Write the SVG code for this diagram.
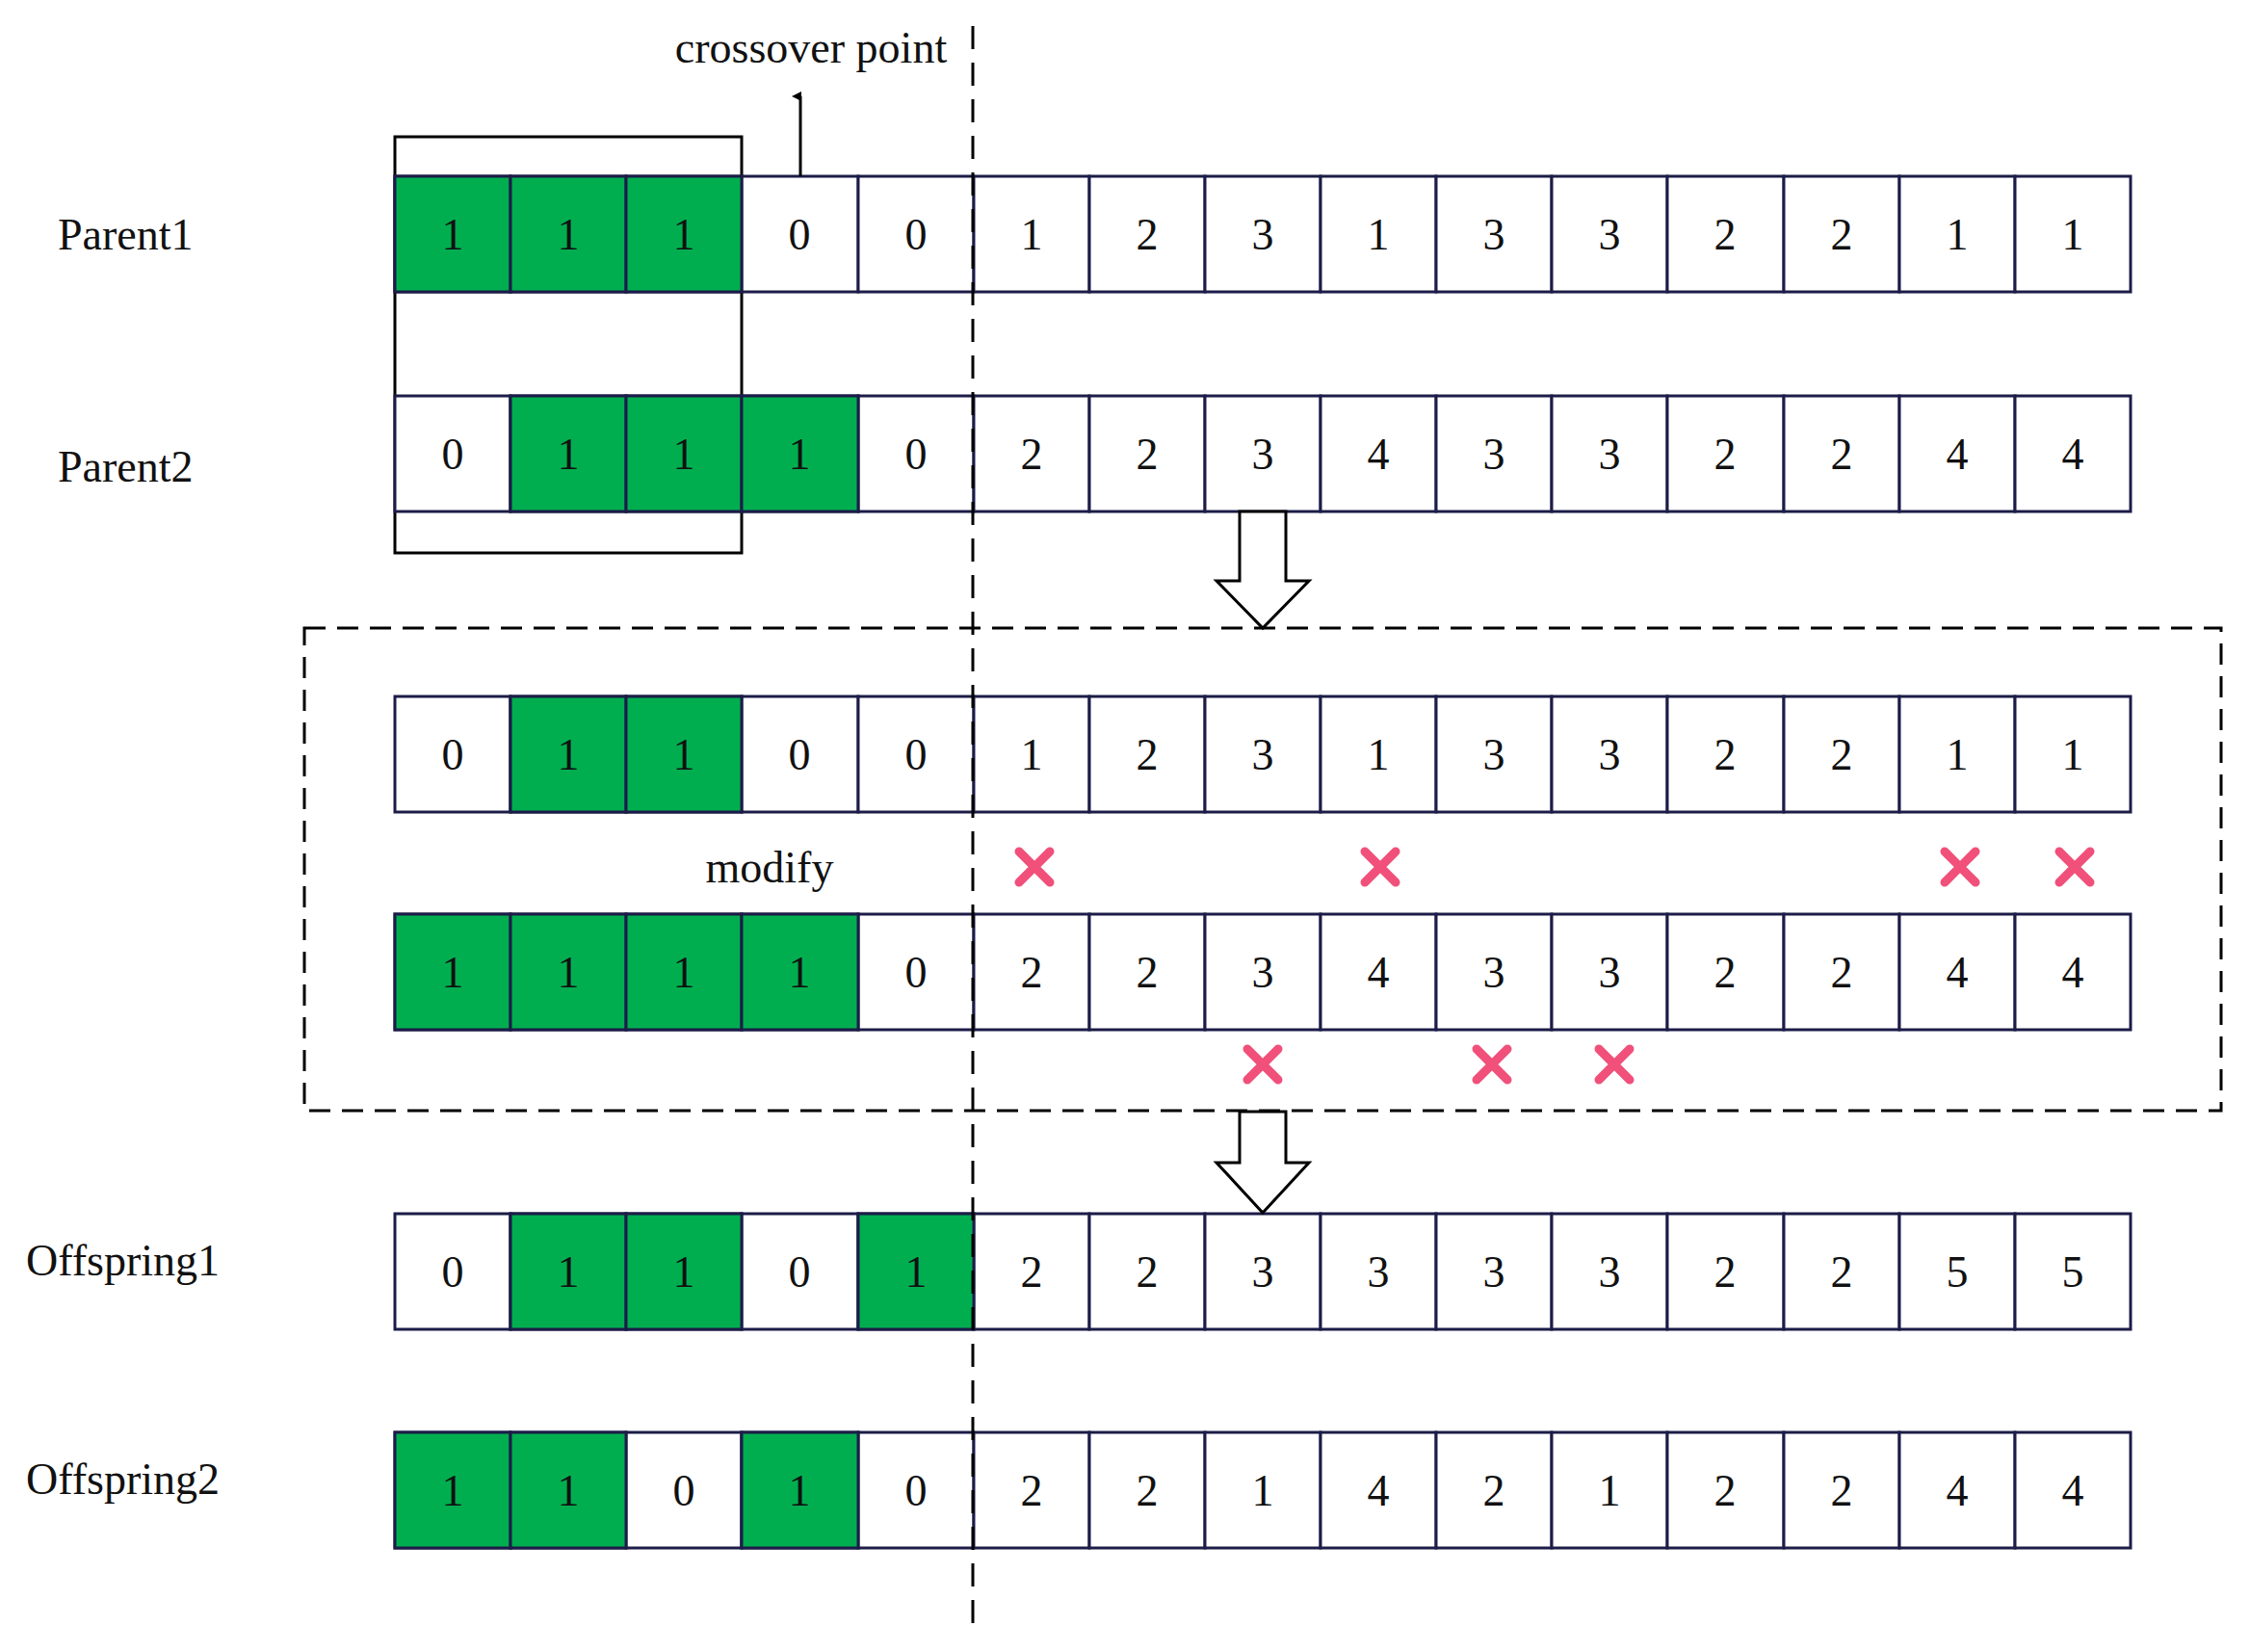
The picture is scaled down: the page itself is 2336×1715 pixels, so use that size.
<svg xmlns="http://www.w3.org/2000/svg" width="2336" height="1715" viewBox="0 0 2336 1715">
<style>
.w{fill:#fff;stroke:#1c1c48;stroke-width:3}
.g{fill:#00ae50;stroke:#1c1c48;stroke-width:3}
.t{font-family:"Liberation Serif",serif;font-size:46px;text-anchor:middle;fill:#111}
.l{font-family:"Liberation Serif",serif;font-size:46px;fill:#111}
.x{stroke:#f0507a;stroke-width:9;stroke-linecap:round;fill:none}
</style>
<defs>
<marker id="ah" markerWidth="10" markerHeight="10" refX="5" refY="9" orient="auto" markerUnits="userSpaceOnUse" viewBox="0 0 10 10"><path d="M0,10 L5,0 L10,10Z" fill="#000"/></marker>
<g id="cells">
<rect class="w" x="410" y="0" width="120" height="120"/><rect class="w" x="530" y="0" width="120" height="120"/><rect class="w" x="650" y="0" width="120" height="120"/><rect class="w" x="770" y="0" width="121" height="120"/><rect class="w" x="891" y="0" width="120" height="120"/><rect class="w" x="1011" y="0" width="120" height="120"/><rect class="w" x="1131" y="0" width="120" height="120"/><rect class="w" x="1251" y="0" width="120" height="120"/><rect class="w" x="1371" y="0" width="120" height="120"/><rect class="w" x="1491" y="0" width="120" height="120"/><rect class="w" x="1611" y="0" width="120" height="120"/><rect class="w" x="1731" y="0" width="121" height="120"/><rect class="w" x="1852" y="0" width="120" height="120"/><rect class="w" x="1972" y="0" width="120" height="120"/><rect class="w" x="2092" y="0" width="120" height="120"/>
</g>
</defs>
<rect width="2336" height="1715" fill="#fff"/>
<rect x="410" y="142" width="360" height="432" fill="#fff" stroke="#000" stroke-width="3"/>
<rect x="316" y="652" width="1990" height="501" fill="none" stroke="#000" stroke-width="3" stroke-dasharray="22,12"/>
<g id="parent1">
<text class="l" x="60" y="259">Parent1</text>
<g transform="translate(0,183)"><use href="#cells"/>
<rect class="g" x="410" y="0" width="120" height="120"/><rect class="g" x="530" y="0" width="120" height="120"/><rect class="g" x="650" y="0" width="120" height="120"/>
<g class="t" transform="translate(0,76)"><text x="470">1</text><text x="590">1</text><text x="710">1</text><text x="830">0</text><text x="951">0</text><text x="1071">1</text><text x="1191">2</text><text x="1311">3</text><text x="1431">1</text><text x="1551">3</text><text x="1671">3</text><text x="1791">2</text><text x="1912">2</text><text x="2032">1</text><text x="2152">1</text></g></g>
</g>
<g id="parent2">
<text class="l" x="60" y="500">Parent2</text>
<g transform="translate(0,411)"><use href="#cells"/>
<rect class="g" x="530" y="0" width="120" height="120"/><rect class="g" x="650" y="0" width="120" height="120"/><rect class="g" x="770" y="0" width="121" height="120"/>
<g class="t" transform="translate(0,76)"><text x="470">0</text><text x="590">1</text><text x="710">1</text><text x="830">1</text><text x="951">0</text><text x="1071">2</text><text x="1191">2</text><text x="1311">3</text><text x="1431">4</text><text x="1551">3</text><text x="1671">3</text><text x="1791">2</text><text x="1912">2</text><text x="2032">4</text><text x="2152">4</text></g></g>
</g>
<g id="row3">
<g transform="translate(0,723)"><use href="#cells"/>
<rect class="g" x="530" y="0" width="120" height="120"/><rect class="g" x="650" y="0" width="120" height="120"/>
<g class="t" transform="translate(0,76)"><text x="470">0</text><text x="590">1</text><text x="710">1</text><text x="830">0</text><text x="951">0</text><text x="1071">1</text><text x="1191">2</text><text x="1311">3</text><text x="1431">1</text><text x="1551">3</text><text x="1671">3</text><text x="1791">2</text><text x="1912">2</text><text x="2032">1</text><text x="2152">1</text></g></g>
</g>
<g id="row4">
<g transform="translate(0,949)"><use href="#cells"/>
<rect class="g" x="410" y="0" width="120" height="120"/><rect class="g" x="530" y="0" width="120" height="120"/><rect class="g" x="650" y="0" width="120" height="120"/><rect class="g" x="770" y="0" width="121" height="120"/>
<g class="t" transform="translate(0,76)"><text x="470">1</text><text x="590">1</text><text x="710">1</text><text x="830">1</text><text x="951">0</text><text x="1071">2</text><text x="1191">2</text><text x="1311">3</text><text x="1431">4</text><text x="1551">3</text><text x="1671">3</text><text x="1791">2</text><text x="1912">2</text><text x="2032">4</text><text x="2152">4</text></g></g>
</g>
<g id="offspring1">
<text class="l" x="27" y="1324">Offspring1</text>
<g transform="translate(0,1260)"><use href="#cells"/>
<rect class="g" x="530" y="0" width="120" height="120"/><rect class="g" x="650" y="0" width="120" height="120"/><rect class="g" x="891" y="0" width="120" height="120"/>
<g class="t" transform="translate(0,76)"><text x="470">0</text><text x="590">1</text><text x="710">1</text><text x="830">0</text><text x="951">1</text><text x="1071">2</text><text x="1191">2</text><text x="1311">3</text><text x="1431">3</text><text x="1551">3</text><text x="1671">3</text><text x="1791">2</text><text x="1912">2</text><text x="2032">5</text><text x="2152">5</text></g></g>
</g>
<g id="offspring2">
<text class="l" x="27" y="1551">Offspring2</text>
<g transform="translate(0,1487)"><use href="#cells"/>
<rect class="g" x="410" y="0" width="120" height="120"/><rect class="g" x="530" y="0" width="120" height="120"/><rect class="g" x="770" y="0" width="121" height="120"/>
<g class="t" transform="translate(0,76)"><text x="470">1</text><text x="590">1</text><text x="710">0</text><text x="830">1</text><text x="951">0</text><text x="1071">2</text><text x="1191">2</text><text x="1311">1</text><text x="1431">4</text><text x="1551">2</text><text x="1671">1</text><text x="1791">2</text><text x="1912">2</text><text x="2032">4</text><text x="2152">4</text></g></g>
</g>
<g id="labels">
<text class="l" x="842" y="65" text-anchor="middle">crossover point</text>
<text class="l" x="799" y="916" text-anchor="middle">modify</text>
</g>
<g id="marks">
<path class="x" d="M1058,884 l32,32 M1090,884 l-32,32 M1417,884 l32,32 M1449,884 l-32,32 M2019,884 l32,32 M2051,884 l-32,32 M2138,884 l32,32 M2170,884 l-32,32 M1295,1089 l32,32 M1327,1089 l-32,32 M1533,1089 l32,32 M1565,1089 l-32,32 M1660,1089 l32,32 M1692,1089 l-32,32"/>
</g>
<g id="connectors">
<line x1="1010" y1="27" x2="1010" y2="1691" stroke="#000" stroke-width="3" stroke-dasharray="24,14"/>
<line x1="831" y1="183" x2="831" y2="100" stroke="#000" stroke-width="3" marker-end="url(#ah)"/>
<path d="M1287,531 V603 H1263 L1311,652 L1359,603 H1335 V531Z" fill="#fff" stroke="#000" stroke-width="3"/>
<path d="M1287,1154 V1207 H1263 L1311,1259 L1359,1207 H1335 V1154Z" fill="#fff" stroke="#000" stroke-width="3"/>
</g>
</svg>
